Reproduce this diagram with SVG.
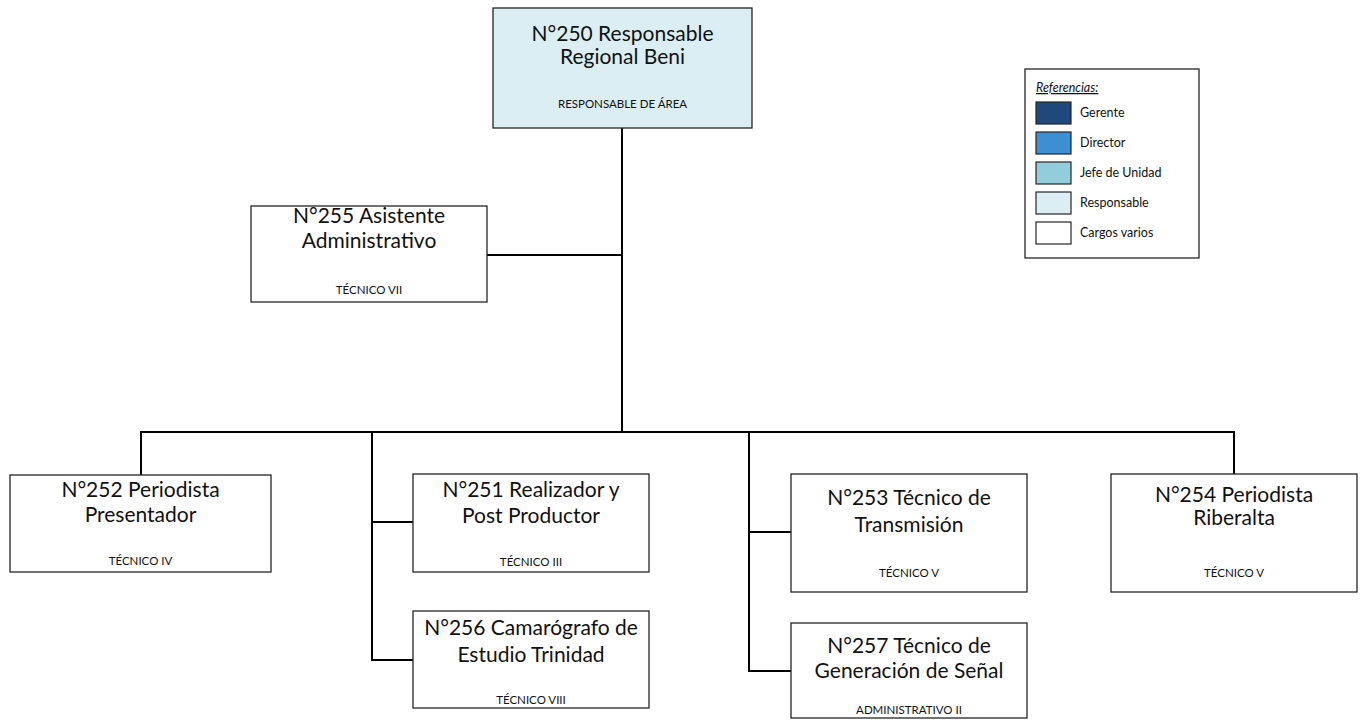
<svg xmlns="http://www.w3.org/2000/svg" width="1363" height="720" viewBox="0 0 1363 720">
  <style>
    .box { fill: #ffffff; stroke: #262626; stroke-width: 1.3; }
    .resp { fill: #DAEEF3; }
    .title { font-family: Lato, "Liberation Sans", sans-serif; font-size: 21px; fill: #111; text-anchor: middle; }
    .rank { font-family: Lato, "Liberation Sans", sans-serif; font-size: 11.5px; fill: #111; text-anchor: middle; }
    .link { fill: none; stroke: #000; stroke-width: 2; }
    .leg { font-family: Lato, "Liberation Sans", sans-serif; font-size: 12.5px; fill: #111; }
    .sw { stroke: #262626; stroke-width: 1.2; }
  </style>

  <g id="connectors">
    <path class="link" d="M622 128 V432"/>
    <path class="link" d="M487 255 H622"/>
    <path class="link" d="M141 475 V432 H1234 V474"/>
    <path class="link" d="M372 432 V660 H413"/>
    <path class="link" d="M372 522 H413"/>
    <path class="link" d="M749 432 V671 H791"/>
    <path class="link" d="M749 532 H791"/>
  </g>

  <g id="n250">
    <rect class="box resp" x="493" y="8" width="259" height="120"/>
    <text class="title" x="622.5" y="41">N°250 Responsable</text>
    <text class="title" x="622.5" y="64">Regional Beni</text>
    <text class="rank" x="622.5" y="108">RESPONSABLE DE ÁREA</text>
  </g>

  <g id="n255">
    <rect class="box" x="251" y="206" width="236" height="96"/>
    <text class="title" x="369" y="223">N°255 Asistente</text>
    <text class="title" x="369" y="248">Administrativo</text>
    <text class="rank" x="369" y="294">TÉCNICO VII</text>
  </g>

  <g id="n252">
    <rect class="box" x="10" y="475" width="261" height="97"/>
    <text class="title" x="140.5" y="497">N°252 Periodista</text>
    <text class="title" x="140.5" y="522">Presentador</text>
    <text class="rank" x="140.5" y="565">TÉCNICO IV</text>
  </g>

  <g id="n251">
    <rect class="box" x="413" y="474" width="236" height="98"/>
    <text class="title" x="531" y="497">N°251 Realizador y</text>
    <text class="title" x="531" y="523">Post Productor</text>
    <text class="rank" x="531" y="566">TÉCNICO III</text>
  </g>

  <g id="n256">
    <rect class="box" x="413" y="611" width="236" height="97"/>
    <text class="title" x="531" y="635">N°256 Camarógrafo de</text>
    <text class="title" x="531" y="662">Estudio Trinidad</text>
    <text class="rank" x="531" y="704">TÉCNICO VIII</text>
  </g>

  <g id="n253">
    <rect class="box" x="791" y="474" width="236" height="118"/>
    <text class="title" x="909" y="505">N°253 Técnico de</text>
    <text class="title" x="909" y="532">Transmisión</text>
    <text class="rank" x="909" y="577">TÉCNICO V</text>
  </g>

  <g id="n257">
    <rect class="box" x="791" y="623" width="236" height="95"/>
    <text class="title" x="909" y="653">N°257 Técnico de</text>
    <text class="title" x="909" y="678">Generación de Señal</text>
    <text class="rank" x="909" y="714">ADMINISTRATIVO II</text>
  </g>

  <g id="n254">
    <rect class="box" x="1111" y="474" width="246" height="118"/>
    <text class="title" x="1234" y="502">N°254 Periodista</text>
    <text class="title" x="1234" y="525">Riberalta</text>
    <text class="rank" x="1234" y="577">TÉCNICO V</text>
  </g>

  <g id="legend">
    <rect class="box" x="1025" y="69" width="174" height="189"/>
    <text class="leg" x="1036" y="92" font-size="13" font-style="italic" text-decoration="underline">Referencias:</text>
    <rect class="sw" x="1036" y="102" width="35" height="22" fill="#1F497D"/>
    <text class="leg" x="1080" y="117">Gerente</text>
    <rect class="sw" x="1036" y="132" width="35" height="22" fill="#3D8FD1"/>
    <text class="leg" x="1080" y="147">Director</text>
    <rect class="sw" x="1036" y="162" width="35" height="22" fill="#92CDDC"/>
    <text class="leg" x="1080" y="177">Jefe de Unidad</text>
    <rect class="sw" x="1036" y="192" width="35" height="22" fill="#DAEEF3"/>
    <text class="leg" x="1080" y="207">Responsable</text>
    <rect class="sw" x="1036" y="222" width="35" height="22" fill="#ffffff"/>
    <text class="leg" x="1080" y="237">Cargos varios</text>
  </g>
</svg>
